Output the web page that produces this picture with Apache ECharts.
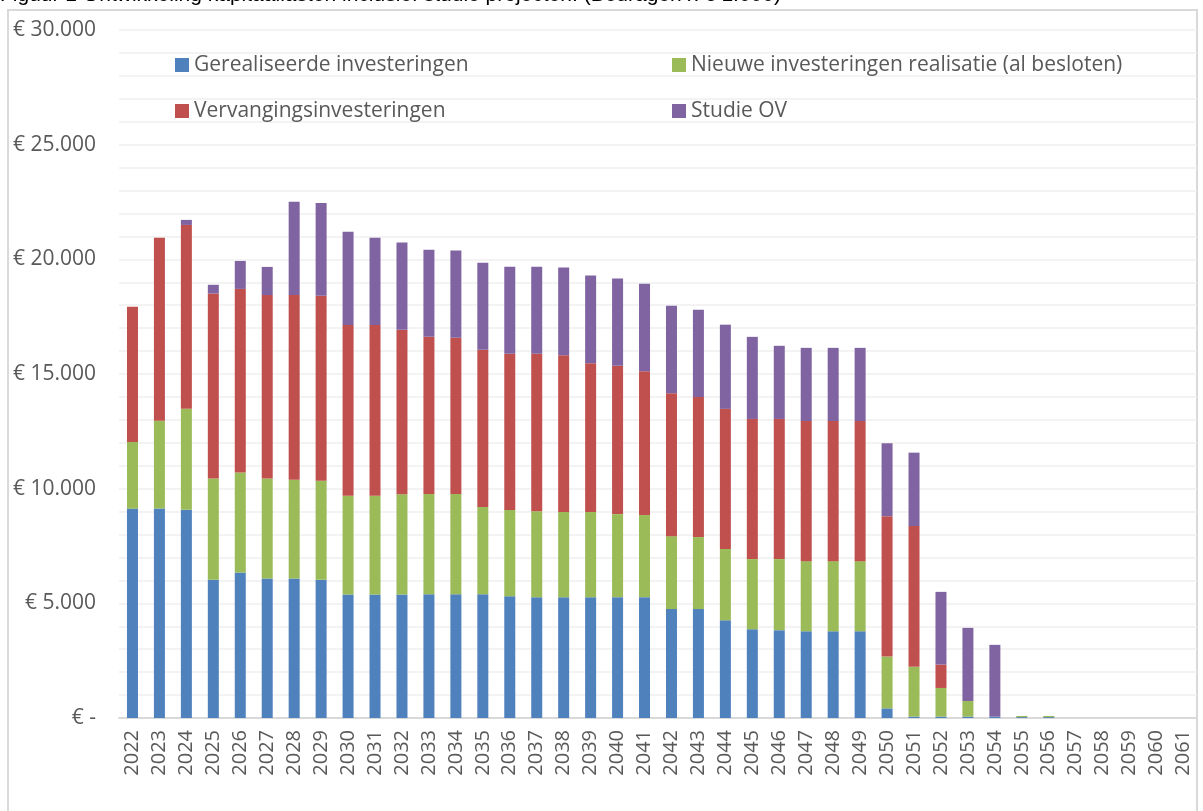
<!DOCTYPE html>
<html>
<head>
<meta charset="utf-8">
<script src="https://cdn.jsdelivr.net/npm/echarts@6/dist/echarts.min.js"></script>
<style>
  html, body { margin: 0; padding: 0; background: #fff; }
  #chart { width: 1203px; height: 811px; }
</style>
</head>
<body>
<div id="chart"></div>
<script>
(function () {
  "use strict";

  var years = ["2022", "2023", "2024", "2025", "2026", "2027", "2028", "2029", "2030", "2031",
    "2032", "2033", "2034", "2035", "2036", "2037", "2038", "2039", "2040", "2041",
    "2042", "2043", "2044", "2045", "2046", "2047", "2048", "2049", "2050", "2051",
    "2052", "2053", "2054", "2055", "2056", "2057", "2058", "2059", "2060", "2061"];

  // bedragen x € 1.000
  var gerealiseerd = [9130, 9130, 9080, 6030, 6340, 6080, 6080, 6030, 5380, 5380,
    5390, 5400, 5400, 5400, 5310, 5270, 5270, 5270, 5270, 5270,
    4750, 4750, 4260, 3870, 3830, 3780, 3780, 3780, 420, 60,
    60, 60, 60, 40, 40, 0, 0, 0, 0, 0];
  var nieuw = [2910, 3830, 4400, 4410, 4360, 4360, 4310, 4320, 4310, 4310,
    4370, 4370, 4370, 3800, 3760, 3750, 3710, 3710, 3620, 3580,
    3180, 3140, 3110, 3060, 3100, 3060, 3060, 3060, 2260, 2170,
    1250, 680, 0, 50, 50, 0, 0, 0, 0, 0];
  var vervanging = [5890, 7980, 8020, 8070, 8010, 8000, 8050, 8060, 7450, 7450,
    7170, 6850, 6810, 6860, 6810, 6860, 6840, 6490, 6470, 6270,
    6230, 6110, 6110, 6110, 6110, 6110, 6110, 6110, 6120, 6140,
    1020, 0, 0, 0, 0, 0, 0, 0, 0, 0];
  var studieOV = [0, 0, 220, 380, 1220, 1230, 4070, 4050, 4060, 3800,
    3800, 3800, 3800, 3790, 3800, 3800, 3820, 3820, 3800, 3820,
    3820, 3800, 3670, 3580, 3190, 3190, 3190, 3190, 3180, 3200,
    3170, 3190, 3130, 0, 0, 0, 0, 0, 0, 0];

  var seriesNames = ["Gerealiseerde investeringen", "Nieuwe investeringen realisatie (al besloten)",
    "Vervangingsinvesteringen", "Studie OV"];
  var COLORS = ["#4f81bd", "#9bbb59", "#c0504d", "#8064a2"];
  var FONT = "'Open Sans', sans-serif";
  var TEXT = "#595959";
  var GRID = "#efefef";

  function euro(v) {
    if (v === 0) return "€ -";
    return "€ " + String(v).replace(/\B(?=(\d{3})+(?!\d))/g, ".");
  }

  function bar(name, data, color) {
    return {
      name: name,
      type: "bar",
      stack: "totaal",
      data: data,
      barWidth: 11,
      itemStyle: { color: color },
      emphasis: { disabled: true }
    };
  }

  var legendText = { color: TEXT, fontSize: 21, fontFamily: FONT, lineHeight: 22 };

  var chart = echarts.init(document.getElementById("chart"), null, { renderer: "canvas" });
  chart.setOption({
    animation: false,
    backgroundColor: "#fff",
    color: COLORS,
    textStyle: { fontFamily: FONT },
    graphic: [
      {
        type: "rect", silent: true, z: -1,
        shape: { x: 8, y: 10, width: 1189, height: 830 },
        style: { fill: "none", stroke: "#d9d9d9", lineWidth: 2 }
      },
      {
        type: "text", left: 0, top: -15, silent: true,
        style: {
          text: "Figuur 1 Ontwikkeling kapitaallasten inclusief studie projecten. (Bedragen x € 1.000)",
          fill: "#000", font: "21px 'Liberation Sans', Arial, sans-serif"
        }
      }
    ],
    legend: [
      {
        data: [seriesNames[0], seriesNames[2]],
        orient: "vertical", left: 170, top: 49, itemGap: 24,
        itemWidth: 14, itemHeight: 14, icon: "rect",
        textStyle: legendText, selectedMode: false
      },
      {
        data: [seriesNames[1], seriesNames[3]],
        orient: "vertical", left: 667, top: 49, itemGap: 24,
        itemWidth: 14, itemHeight: 14, icon: "rect",
        textStyle: legendText, selectedMode: false
      }
    ],
    grid: { left: 119, right: 6, top: 30, bottom: 93 },
    xAxis: {
      type: "category",
      data: years,
      axisLine: { lineStyle: { color: "#d9d9d9", width: 2 } },
      axisTick: { show: false },
      axisLabel: { rotate: 90, color: TEXT, fontSize: 20, fontFamily: FONT, margin: 12, interval: 0 }
    },
    yAxis: {
      type: "value",
      min: 0, max: 30000, interval: 5000,
      axisLine: { show: false },
      axisTick: { show: false },
      axisLabel: { color: TEXT, fontSize: 21, fontFamily: FONT, margin: 23, formatter: euro },
      splitLine: { lineStyle: { color: GRID, width: 1.5 } },
      minorTick: { show: false, splitNumber: 5 },
      minorSplitLine: { show: true, lineStyle: { color: GRID, width: 1.5 } }
    },
    series: [
      bar(seriesNames[0], gerealiseerd, COLORS[0]),
      bar(seriesNames[1], nieuw, COLORS[1]),
      bar(seriesNames[2], vervanging, COLORS[2]),
      bar(seriesNames[3], studieOV, COLORS[3])
    ]
  });
})();
</script>
</body>
</html>
